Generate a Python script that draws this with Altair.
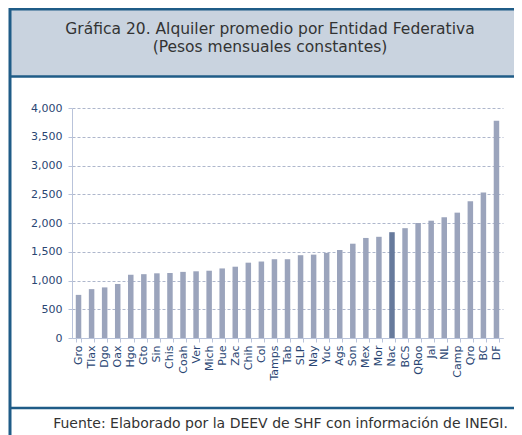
import altair as alt
import pandas as pd

estados = ["Gro", "Tlax", "Dgo", "Oax", "Hgo", "Gto", "Sin", "Chis", "Coah", "Ver", "Mich",
           "Pue", "Zac", "Chih", "Col", "Tamps", "Tab", "SLP", "Nay", "Yuc", "Ags", "Son",
           "Mex", "Mor", "Nac", "BCS", "QRoo", "Jal", "NL", "Camp", "Qro", "BC", "DF"]
alquiler = [750, 850, 880, 940, 1100, 1110, 1125, 1130, 1150, 1160, 1170,
            1210, 1240, 1310, 1330, 1370, 1370, 1440, 1450, 1480, 1530, 1640,
            1740, 1760, 1840, 1910, 2000, 2040, 2100, 2180, 2380, 2530, 3780]
y_ticks = [0, 500, 1000, 1500, 2000, 2500, 3000, 3500, 4000]
titulo = ["Gráfica 20. Alquiler promedio por Entidad Federativa", "(Pesos mensuales constantes)"]
fuente = "Fuente: Elaborado por la DEEV de SHF con información de INEGI."

df = pd.DataFrame({"estado": estados, "alquiler": alquiler})
one = pd.DataFrame({"k": [0]})

BORDER = "#1f5c87"
BOXFILL = "#c9d3df"
BAR = "#9ba4bc"
BARDARK = "#677a9c"
LABEL = "#2a4673"
AXIS = "#b9c3da"
GRID = "#aeb7cc"

W, H = 431, 230
PL, PT = 64, 100
CW, CH = 506, 427

def rx(cx):
    return cx - PL

def ry(cy):
    return cy - PT

box = alt.Chart(one).mark_rect(color=BOXFILL).encode(
    x=alt.value(rx(3)), x2=alt.value(rx(CW)), y=alt.value(ry(0)), y2=alt.value(ry(68)))

left_line = alt.Chart(one).mark_rule(color=BORDER, strokeWidth=3).encode(
    x=alt.value(rx(2)), y=alt.value(ry(0)), y2=alt.value(ry(CH)))
top_line = alt.Chart(one).mark_rule(color=BORDER, strokeWidth=3).encode(
    x=alt.value(rx(1)), x2=alt.value(rx(CW)), y=alt.value(ry(1)))
mid_line = alt.Chart(one).mark_rule(color=BORDER, strokeWidth=2.5).encode(
    x=alt.value(rx(1)), x2=alt.value(rx(CW)), y=alt.value(ry(68.5)))
foot_line = alt.Chart(one).mark_rule(color=BORDER, strokeWidth=2.5).encode(
    x=alt.value(rx(1)), x2=alt.value(rx(CW)), y=alt.value(ry(400)))

title_txt = alt.Chart(one).mark_text(text=titulo, font="DejaVu Sans", fontSize=15.5, lineHeight=18,
                                     color="#333333", align="center", baseline="alphabetic").encode(
    x=alt.value(rx(262)), y=alt.value(ry(25.5)))
foot = alt.Chart(one).mark_text(text=fuente, font="DejaVu Sans", fontSize=14,
                                color="#333333", align="center", baseline="alphabetic").encode(
    x=alt.value(rx(272.5)), y=alt.value(ry(420)))

bars = alt.Chart(df).mark_bar(size=5.5).encode(
    x=alt.X("estado:N", sort=None, title=None,
            scale=alt.Scale(paddingInner=0.58, paddingOuter=0.29),
            axis=alt.Axis(labelAngle=270, labelFont="DejaVu Sans", labelFontSize=11,
                          labelColor=LABEL, domainColor=AXIS, tickColor=AXIS,
                          tickBand="extent", tickSize=4, labelPadding=3, grid=False)),
    y=alt.Y("alquiler:Q", title=None,
            scale=alt.Scale(domain=[0, 4000], nice=False),
            axis=alt.Axis(values=y_ticks, format=",.0f", labelFont="DejaVu Sans", labelFontSize=11,
                          labelColor=LABEL, domainColor=AXIS, tickColor=AXIS, tickSize=4,
                          labelPadding=6, gridColor=GRID, gridDash=[3, 2], gridWidth=1)),
    color=alt.condition(alt.datum.estado == "Nac", alt.value(BARDARK), alt.value(BAR)),
)

chart = alt.layer(box, left_line, top_line, mid_line, foot_line, title_txt, foot, bars).properties(
    width=W, height=H,
    autosize=alt.AutoSizeParams(type="none"),
    padding={"left": PL, "top": PT, "right": CW - PL - W, "bottom": CH - PT - H},
    background="white",
).configure_view(stroke=None)

chart.save("out.html", embed_options={"renderer": "svg", "actions": False})
